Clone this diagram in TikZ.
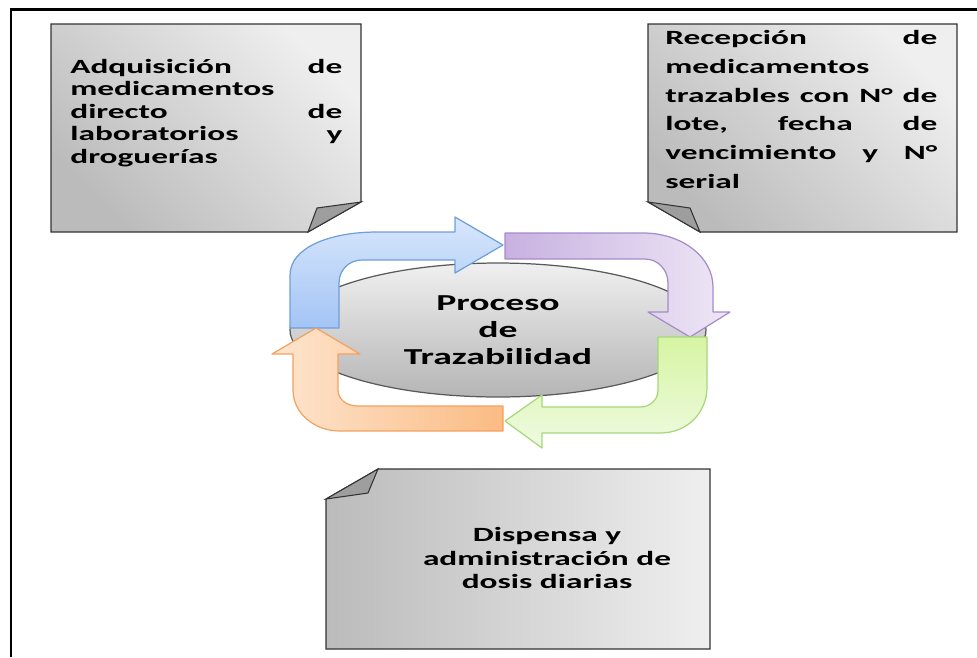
\documentclass[tikz,border=0pt]{standalone}
\usepackage{fontspec}
\setmainfont{Carlito}[FakeStretch=1.65]
\usetikzlibrary{shapes.geometric}
\definecolor{notedark}{HTML}{BBBBBB}
\definecolor{notelight}{HTML}{EFEFEF}
\definecolor{bluetop}{HTML}{D8E7FC}
\definecolor{bluebot}{HTML}{A3C4F5}
\definecolor{blueline}{HTML}{6F9FD8}
\definecolor{purpdark}{HTML}{C8B1E0}
\definecolor{purplight}{HTML}{EEE7F6}
\definecolor{purpline}{HTML}{A58CC8}
\definecolor{greentop}{HTML}{D6F5A3}
\definecolor{greenbot}{HTML}{EFFAE2}
\definecolor{greenline}{HTML}{A6D77A}
\definecolor{orangelight}{HTML}{FDE5CE}
\definecolor{orangedark}{HTML}{FBBB84}
\definecolor{orangeline}{HTML}{F4A261}
\begin{document}
\begin{tikzpicture}[x=0.02cm, y=-0.02cm] \tikzset{notebox/.style={draw=black!80, line width=0.6pt, left color=notedark, right color=notelight, shading angle=135},
notefold/.style={draw=black!80, line width=0.6pt, fill=black!38},
notetext/.style={inner sep=0pt, text width=5.44cm, font=\bfseries\fontsize{11.5}{12.75}\selectfont},
arrowshape/.style={line width=0.7pt, line join=round}}
\useasboundingbox (0,0) rectangle (977,657);
\draw [line width=1.7pt] (11,657) -- (11,9) -- (977,9);
\draw [notebox] (51,24) -- (361,24) -- (361,202) -- (308,232) -- (51,232) -- cycle;
\draw [notefold] (361,202) -- (317,208) -- (308,232) -- cycle;
\node (adq) at (70,59) [notetext, anchor=north west] {Adquisición \hfill de\\ medicamentos\\ directo \hfill de\\ laboratorios \hfill y\\ droguerías};
\draw [notebox] (648,24) -- (957,24) -- (957,232) -- (700,232) -- (648,202) -- cycle;
\draw [notefold] (648,202) -- (690,208) -- (700,232) -- cycle;
\node (rec) at (665,30) [notetext, anchor=north west, font=\bfseries\fontsize{11.5}{16.4}\selectfont] {Recepción \hfill de\\ medicamentos\\ trazables \hfill con \hfill N° \hfill de\\ lote, \hfill fecha \hfill de\\ vencimiento \hfill y \hfill N°\\ serial};
\draw [notebox, shading angle=90] (326,499) -- (378,469) -- (710,469) -- (710,649) -- (326,649) -- cycle;
\draw [notefold] (326,499) -- (368,493) -- (378,469) -- cycle;
\node (dis) at (547,558) [align=center, inner sep=0pt, font=\bfseries\fontsize{11.5}{13.3}\selectfont] {Dispensa y\\ administración de\\ dosis diarias};
\node (proc) at (498,330) [ellipse, draw=black!65, line width=0.7pt, minimum width=8.32cm, minimum height=2.68cm, top color=black!6, bottom color=black!29, align=center, font=\bfseries\fontsize{13}{15.3}\selectfont] {Proceso\\ de\\ Trazabilidad};
\draw [arrowshape, draw=blueline, top color=bluetop, bottom color=bluebot] (290,328) -- (290,275) .. controls (290,248) and (329,232) .. (377,232) -- (455,232) -- (455,217) -- (503,245) -- (455,273) -- (455,260) -- (362,260) .. controls (349,260) and (339,270) .. (339,283) -- (339,328) -- cycle;
\draw [arrowshape, draw=purpline, left color=purpdark, right color=purplight] (505,233) -- (643,233) .. controls (682,233) and (713,257) .. (713,287) -- (713,312) -- (730,312) -- (690,337) -- (648,312) -- (668,312) -- (668,283) .. controls (668,270) and (658,259) .. (645,259) -- (505,259) -- cycle;
\draw [arrowshape, draw=greenline, top color=greentop, bottom color=greenbot] (658,337) -- (707,337) -- (707,387) .. controls (707,412) and (688,433) .. (660,433) -- (542,433) -- (542,448) -- (505,421) -- (542,395) -- (542,407) -- (640,407) .. controls (650,407) and (658,400) .. (658,390) -- cycle;
\draw [arrowshape, draw=orangeline, left color=orangelight, right color=orangedark] (503,406) -- (503,431) -- (340,431) .. controls (314,431) and (293,413) .. (293,390) -- (293,354) -- (272,354) -- (316,328) -- (360,354) -- (338,354) -- (338,390) .. controls (338,399) and (346,406) .. (358,406) -- cycle;
\end{tikzpicture}
\end{document}
